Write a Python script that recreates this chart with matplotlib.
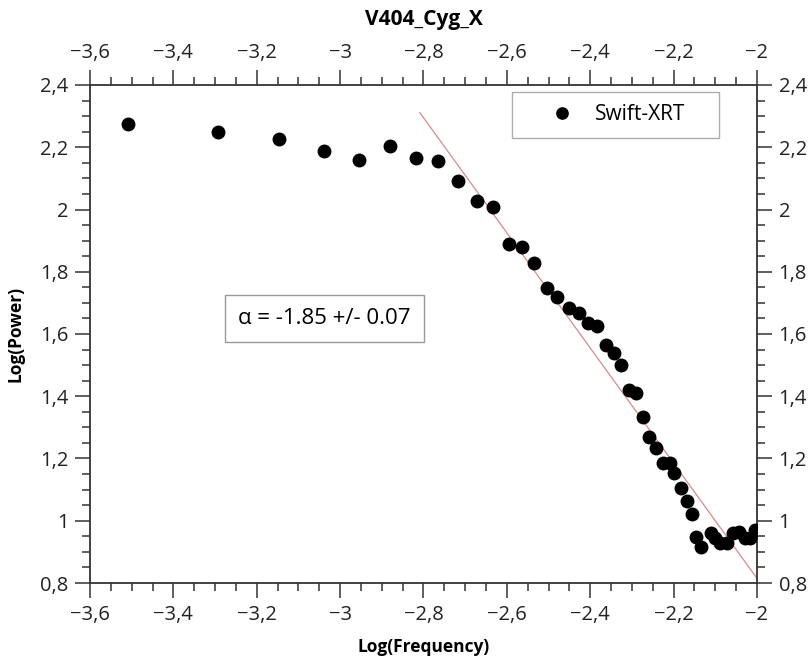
import matplotlib
matplotlib.use("Agg")
import matplotlib.pyplot as plt
from matplotlib.ticker import MultipleLocator, FuncFormatter
import numpy as np

plt.rcParams['font.family'] = ['Open Sans', 'DejaVu Sans']

title = "V404_Cyg_X"
xlabel = "Log(Frequency)"
ylabel = "Log(Power)"
series_name = "Swift-XRT"
fit_text = "α = -1.85 +/- 0.07"

log_freq = [-3.509, -3.293, -3.147, -3.039, -2.955, -2.881, -2.818, -2.765, -2.718,
            -2.672, -2.634, -2.595, -2.564, -2.535, -2.504, -2.480, -2.451, -2.427,
            -2.406, -2.384, -2.363, -2.343, -2.327, -2.307, -2.291, -2.274, -2.259,
            -2.243, -2.226, -2.209, -2.200, -2.183, -2.168, -2.156, -2.147, -2.135,
            -2.111, -2.101, -2.089, -2.072, -2.058, -2.044, -2.029, -2.017, -2.005]
log_power = [2.276, 2.250, 2.228, 2.189, 2.160, 2.205, 2.167, 2.157, 2.093,
             2.028, 2.009, 1.890, 1.880, 1.829, 1.749, 1.720, 1.684, 1.668,
             1.636, 1.626, 1.565, 1.540, 1.501, 1.421, 1.411, 1.334, 1.269,
             1.234, 1.186, 1.186, 1.154, 1.105, 1.064, 1.022, 0.948, 0.916,
             0.961, 0.945, 0.929, 0.929, 0.961, 0.964, 0.945, 0.945, 0.970]

fit_slope = -1.85
fit_intercept = -2.885
fit_x_range = [-2.809, -2.0]

fig = plt.figure(figsize=(8.1, 6.58), dpi=100)
ax = fig.add_axes([90/810, 1-583/658, (757-90)/810, (583-85)/658])

ax.plot(log_freq, log_power, 'o', color='black', markersize=9, label=series_name, zorder=3)
fx = np.array(fit_x_range)
ax.plot(fx, fit_slope*fx + fit_intercept, color='#d98a8a', lw=0.9, zorder=2)

ax.set_xlim(-3.6, -2.0)
ax.set_ylim(0.8, 2.4)

def fmt(v, pos):
    s = ('%.1f' % v).rstrip('0').rstrip('.')
    if s in ('-0',):
        s = '0'
    return s.replace('.', ',').replace('-', '\u2212')

for axis_ in (ax.xaxis, ax.yaxis):
    axis_.set_major_formatter(FuncFormatter(fmt))
ax.xaxis.set_major_locator(MultipleLocator(0.2))
ax.xaxis.set_minor_locator(MultipleLocator(0.05))
ax.yaxis.set_major_locator(MultipleLocator(0.2))
ax.yaxis.set_minor_locator(MultipleLocator(0.05))

ax.tick_params(which='both', direction='out', top=True, right=True,
               labeltop=True, labelright=True, colors='#333333', labelcolor='#222222')
ax.tick_params(which='major', length=10.5, width=1.1, labelsize=14.5, pad=5)
ax.tick_params(which='minor', length=5.5, width=1.1)
for sp in ax.spines.values():
    sp.set_color('#333333')
    sp.set_linewidth(1.3)

ax.set_xlabel(xlabel, fontsize=12.5, fontweight='bold', labelpad=10)
ax.set_ylabel(ylabel, fontsize=12.5, fontweight='bold', labelpad=11)
ax.set_title(title, fontsize=15, fontweight='bold', pad=43)

lx0 = (512-90)/667
lw_ = (719-512)/667
ly1 = 1-(92-85)/498
leg = ax.legend(loc='upper left', bbox_to_anchor=(lx0, ly1-0.2, lw_, 0.2),
                mode='expand', frameon=True, fancybox=False, fontsize=15,
                borderpad=0.6, handletextpad=-0.2, borderaxespad=0,
                markerscale=0.9, handlelength=3.6)
leg.get_frame().set_edgecolor('#999999')
leg.get_frame().set_linewidth(1.0)

ax.text((324.5-90)/667, (583-318.5)/498, fit_text, transform=ax.transAxes,
        ha='center', va='center', fontsize=16,
        bbox=dict(boxstyle='square,pad=0.6', fc='white', ec='#999999', lw=1.0))

fig.savefig('out.png', dpi=100)
